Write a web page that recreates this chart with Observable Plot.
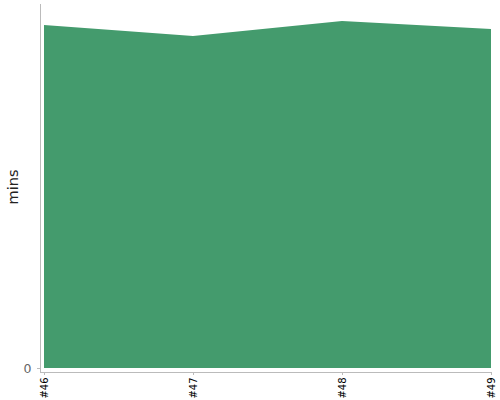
<!DOCTYPE html>
<html>
<head>
<meta charset="utf-8">
<script src="https://cdn.jsdelivr.net/npm/d3@7"></script>
<script src="https://cdn.jsdelivr.net/npm/@observablehq/plot@0.6"></script>
<style>
  html, body { margin: 0; padding: 0; background: #fff; }
  #chart svg { display: block; font-family: "DejaVu Sans", sans-serif; }
</style>
</head>
<body>
<div id="chart"></div>
<script>
const builds = ["#46", "#47", "#48", "#49"];
const minutes = [94.2, 91.2, 95.3, 93.1];
const yTicks = [0];
const yLabel = "mins";

const data = builds.map((b, i) => ({build: b, mins: minutes[i]}));

const chart = Plot.plot({
  width: 500,
  height: 400,
  marginLeft: 40,
  marginRight: 9,
  marginTop: 4,
  marginBottom: 28,
  style: {background: "#fff", fontFamily: "DejaVu Sans, sans-serif"},
  x: {type: "point", domain: builds, padding: 0, insetLeft: 3},
  y: {domain: [0, 100], insetBottom: 4},
  marks: [
    Plot.areaY(data, {x: "build", y: "mins", fill: "#449b6d"}),
    Plot.axisY({ticks: yTicks, label: null, tickSize: 3, tickPadding: 6, fontSize: 12.5, color: "#666", stroke: "#bbb"}),
    Plot.frame({anchor: "left", stroke: "#bbb"}),
    Plot.axisX({label: null, tickRotate: -90, tickSize: 3, tickPadding: 2, fontSize: 10, color: "#000", stroke: "#bbb"}),
    Plot.frame({anchor: "bottom", stroke: "#bbb"}),
    Plot.text([yLabel], {frameAnchor: "left", textAnchor: "middle", rotate: -90, dx: -27, dy: -1.5, fontSize: 14.5, fill: "#222", text: d => d})
  ]
});
document.getElementById("chart").appendChild(chart);
</script>
</body>
</html>
